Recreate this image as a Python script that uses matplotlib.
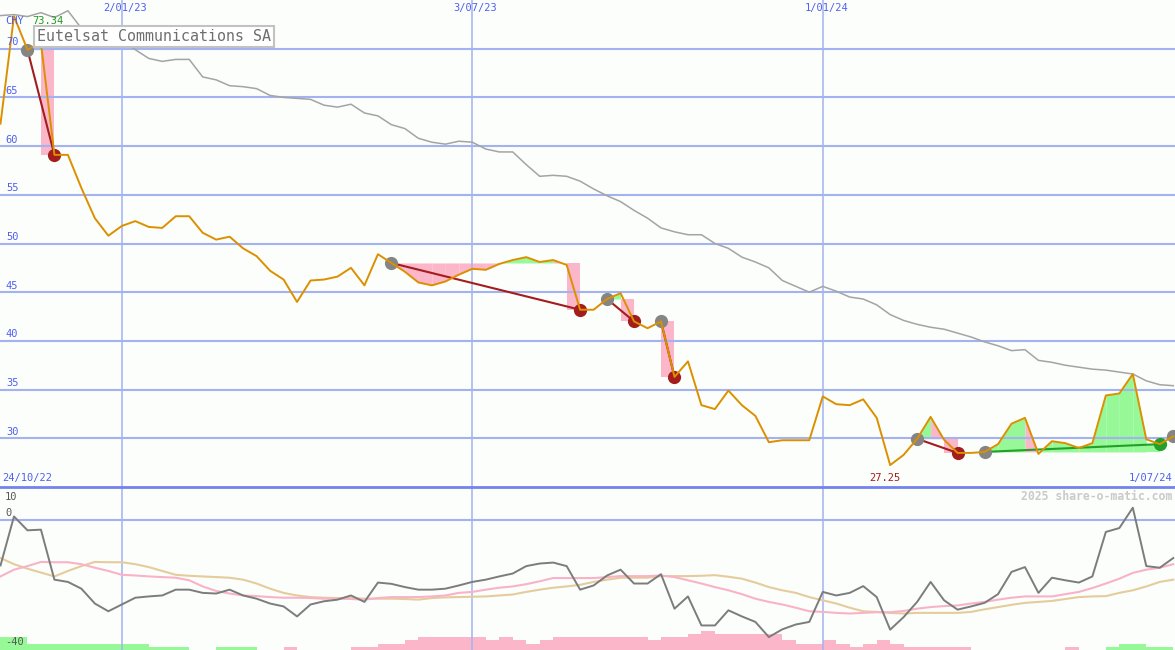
import matplotlib.pyplot as plt

# Weekly closes, 0 = first visible week, 87 = 1/07/24.
price = [62.3, 73.34, 69.9, 70.6, 59.1, 59.1, 55.7, 52.6, 50.8, 51.8,
         52.3, 51.7, 51.6, 52.8, 52.8, 51.1, 50.4, 50.7, 49.5, 48.7,
         47.2, 46.3, 44.0, 46.2, 46.3, 46.6, 47.5, 45.7, 48.9, 48.0,
         47.1, 46.0, 45.7, 46.1, 46.8, 47.4, 47.3, 47.9, 48.3, 48.6,
         48.1, 48.3, 47.8, 43.2, 43.2, 44.3, 44.9, 42.0, 41.3, 42.0,
         36.3, 37.9, 33.4, 33.0, 34.9, 33.4, 32.3, 29.6, 29.8, 29.8,
         29.8, 34.3, 33.5, 33.4, 34.0, 32.1, 27.25, 28.3, 29.95, 32.2,
         29.85, 28.5, 28.5, 28.6, 29.4, 31.5, 32.1, 28.4, 29.7, 29.5,
         29.0, 29.5, 34.4, 34.6, 36.6, 29.9, 29.4, 30.2]

# Long moving average (grey line in the price panel).
ma_long = [73.4, 73.5, 73.3, 73.7, 73.2, 73.9, 72.1, 71.7, 71.6, 70.8,
           69.9, 69.0, 68.7, 68.9, 68.9, 67.1, 66.8, 66.2, 66.1, 65.9,
           65.2, 65.0, 64.9, 64.8, 64.2, 64.0, 64.3, 63.4, 63.1, 62.2,
           61.8, 60.8, 60.4, 60.2, 60.5, 60.4, 59.7, 59.4, 59.4, 58.1,
           56.9, 57.0, 56.9, 56.4, 55.6, 54.9, 54.3, 53.4, 52.6, 51.6,
           51.2, 50.9, 50.9, 50.0, 49.5, 48.6, 48.1, 47.5, 46.2, 45.6,
           45.0, 45.6, 45.1, 44.5, 44.3, 43.7, 42.7, 42.1, 41.7, 41.4,
           41.2, 40.8, 40.4, 39.9, 39.5, 39.0, 39.1, 38.0, 37.8, 37.5,
           37.3, 37.1, 37.0, 36.8, 36.6, 35.9, 35.5, 35.4]

# Lower panel: oscillator and its two smoothings.
osc = [-14.1, 1.1, -3.2, -3.0, -18.5, -19.2, -21.3, -25.9, -28.3, -26.2,
       -24.1, -23.7, -23.4, -21.6, -21.6, -22.6, -22.8, -21.6, -23.4, -24.4,
       -25.9, -26.8, -29.9, -26.2, -25.2, -24.7, -23.4, -25.4, -19.4, -19.8,
       -20.8, -21.6, -21.6, -21.3, -20.3, -19.2, -18.5, -17.5, -16.6, -14.3,
       -13.5, -13.2, -14.3, -21.6, -20.3, -17.2, -15.4, -19.7, -19.7, -16.8,
       -27.5, -23.7, -32.7, -32.7, -28.0, -29.9, -31.6, -36.3, -33.9, -32.4,
       -31.6, -22.3, -23.4, -22.6, -20.5, -23.9, -34.0, -30.1, -25.4, -19.2,
       -24.9, -27.8, -26.8, -25.7, -23.0, -16.1, -14.6, -22.6, -17.9, -18.7,
       -19.4, -17.5, -3.7, -2.5, 3.8, -14.3, -14.8, -11.8]

osc_fast = [-17.5, -15.4, -14.3, -13.0, -13.1, -13.1, -13.7, -14.8, -15.8, -17.0,
            -17.2, -17.5, -17.7, -17.9, -18.7, -20.6, -22.0, -22.8, -23.4, -23.6,
            -23.9, -24.1, -24.1, -24.2, -24.4, -24.4, -24.5, -24.7, -24.2, -23.9,
            -23.9, -23.9, -23.7, -23.4, -22.6, -22.3, -21.6, -21.0, -20.6, -19.9,
            -19.0, -18.0, -18.0, -18.0, -18.0, -17.7, -17.4, -17.4, -17.4, -17.2,
            -17.7, -18.7, -19.7, -20.8, -21.8, -23.0, -24.4, -25.4, -26.2, -27.2,
            -28.3, -28.5, -28.8, -29.0, -28.8, -28.6, -28.6, -28.2, -27.5, -27.0,
            -26.7, -26.5, -25.9, -25.4, -24.7, -24.1, -23.7, -23.7, -23.7, -23.0,
            -22.3, -21.1, -19.7, -18.2, -16.4, -15.4, -14.8, -13.7]

osc_slow = [-11.8, -13.7, -15.1, -16.3, -17.5, -15.8, -14.3, -13.0, -13.1, -13.1,
            -13.7, -14.6, -15.8, -17.0, -17.3, -17.5, -17.7, -17.9, -18.5, -19.7,
            -21.3, -22.6, -23.4, -23.9, -24.1, -24.2, -24.2, -24.4, -24.4, -24.4,
            -24.5, -24.7, -24.2, -24.0, -23.9, -23.8, -23.7, -23.4, -23.1, -22.3,
            -21.6, -21.0, -20.6, -20.1, -19.2, -18.5, -17.9, -17.9, -17.9, -17.4,
            -17.4, -17.4, -17.3, -17.1, -17.6, -18.2, -19.4, -20.8, -21.8, -22.6,
            -23.9, -24.9, -25.9, -27.2, -28.3, -28.5, -28.8, -29.0, -28.8, -28.8,
            -28.8, -28.8, -28.5, -27.7, -27.0, -26.3, -25.7, -25.4, -25.1, -24.5,
            -23.9, -23.7, -23.6, -22.6, -21.8, -20.6, -19.2, -18.5]

# Histogram at the bottom: one value per week interval, + green, - pink.
bars = [4, 4, 2, 2, 2, 2, 2, 2, 2, 2, 2, 1, 1, 1, 0, 0, 1, 1, 1, 0,
        0, -1, 0, 0, 0, 0, -1, -1, -2, -2, -3, -4, -4, -4, -4, -4, -3, -4, -3, -2,
        -3, -4, -4, -4, -4, -4, -4, -4, -3, -4, -4, -5, -6, -5, -5, -5, -5, -5, -3, -2,
        -2, -3, -2, -1, -2, -3, -2, -1, -1, -1, -1, -1, 0, 0, 0, 0, 0, 0, 0, -1,
        0, 0, 1, 2, 2, 1, 1]

# Trades: entry week and exit week.
entries = [2, 29, 45, 49, 68, 73]
exits = [4, 43, 47, 50, 71, 86]
open_entry = 87

price_ticks = [30, 35, 40, 45, 50, 55, 60, 65, 70]
grid_weeks = [9, 35, 61]
grid_labels = ["2/01/23", "3/07/23", "1/01/24"]
start_label = "24/10/22"
end_label = "1/07/24"
title = "Eutelsat Communications SA"

# Colours used throughout.
bg = "#fcfefb"
grid_col = "#a3b2f1"
sep_col = "#7282ee"
tick_col = "#4f5ff0"
price_col = "#dc9000"
ma_col = "#a4a4a4"
gain_fill = "#97f897"
loss_fill = "#fbb6c9"
loss_col = "#a31d1d"
gain_col = "#22a02a"
entry_col = "#858585"

plt.rcParams["font.family"] = "DejaVu Sans Mono"

fig = plt.figure(figsize=(11.75, 6.5), dpi=100, facecolor=bg)
ax = fig.add_axes([0, 163 / 650, 1, 487 / 650])
low = fig.add_axes([0, 0, 1, 163 / 650])

x0, x1 = -0.037, 87.13
weeks = list(range(len(price)))

for a in (ax, low):
    a.set_facecolor(bg)
    a.set_xlim(x0, x1)
    a.set_axis_off()
    for w in grid_weeks:
        a.axvline(w, color=grid_col, lw=1.1, zorder=2)

ax.set_ylim(25, 75)
low.set_ylim(-40.31, 10.23)

# Price panel grid and labels.
for v in price_ticks:
    ax.axhline(v, color=grid_col, lw=1.5, zorder=2)
    ax.text(0.005, v + 0.15, str(v), transform=ax.get_yaxis_transform(),
            ha="left", va="bottom", fontsize=7.5, color=tick_col, zorder=6)

for w, lab in zip(grid_weeks, grid_labels):
    ax.text(w + 0.25, 74.15, lab, ha="center", va="center", fontsize=7.5, color=tick_col)


# Shade each trade between its entry level and the price.
def draw_trade_fill(entry, exit):
    level = price[entry]
    for k in range(entry, exit - 1):
        colour = loss_fill if price[k + 1] < level else gain_fill
        ax.fill_between([k, k + 1], level, [price[k], price[k + 1]],
                        color=colour, lw=0, zorder=1)
    colour = loss_fill if price[exit] < level else gain_fill
    ax.fill_between([exit - 1, exit], level, price[exit], color=colour, lw=0, zorder=1)


for e, x in zip(entries, exits):
    draw_trade_fill(e, x)

ax.plot(weeks, ma_long, color=ma_col, lw=1.1, zorder=3)

for e, x in zip(entries, exits):
    won = price[x] > price[e]
    ax.plot([e, x], [price[e], price[x]], color=gain_col if won else loss_col, lw=1.5, zorder=4)
    ax.plot(e, price[e], "o", ms=9.5, color=entry_col, mec="none", zorder=4)
    ax.plot(x, price[x], "o", ms=9.5, color=gain_col if won else loss_col, mec="none", zorder=4)

ax.plot([open_entry, open_entry + 0.5], [price[open_entry]] * 2, color=loss_col, lw=1.5, zorder=4)
ax.plot(open_entry, price[open_entry], "o", ms=9.5, color=entry_col, mec="none", zorder=4)

ax.plot(weeks, price, color=price_col, lw=1.4, zorder=5)

# Max / min and range annotations.
imax = price.index(max(price))
imin = price.index(min(price))
ax.text(0.0043, 72.85, "CHY", transform=ax.get_yaxis_transform(),
        ha="left", va="center", fontsize=7.5, color=tick_col, zorder=6)
ax.text(imax + 1.33, 72.85, f"{price[imax]:.2f}", ha="left", va="center",
        fontsize=7.5, color="#1f9a1f", zorder=6)
ax.text(imin - 0.4, 25.9, f"{price[imin]:.2f}", ha="center", va="center",
        fontsize=7.5, color=loss_col, zorder=6)
ax.text(0.002, 25.9, start_label, transform=ax.get_yaxis_transform(),
        ha="left", va="center", fontsize=7.5, color=tick_col)
ax.text(0.9975, 25.9, end_label, transform=ax.get_yaxis_transform(),
        ha="right", va="center", fontsize=7.5, color=tick_col)

ax.text(37 / 1175, 1 - 36.5 / 487, title, transform=ax.transAxes,
        ha="left", va="center", fontsize=10.8, color="#6e6e6e", zorder=7,
        bbox=dict(boxstyle="square,pad=0.22", fc="white", ec="#c2c2c2", lw=1.5))

# Lower panel.
low.axhline(10.23, color=sep_col, lw=2, zorder=6, clip_on=False)
low.axhline(0, color=grid_col, lw=1.5, zorder=2)

bar_weeks = list(range(len(bars)))
bar_cols = [gain_fill if b > 0 else loss_fill for b in bars]
low.bar(bar_weeks, [abs(b) for b in bars], width=1, align="edge", bottom=-40.31,
        color=bar_cols, lw=0, zorder=1)

low.plot(weeks, osc_slow, color="#e5cc9d", lw=1.5, zorder=3)
low.plot(weeks, osc_fast, color="#f9b3c8", lw=1.5, zorder=3)
low.plot(weeks, osc, color="#7c7c7c", lw=1.4, zorder=4)

for v, lab in [(7.1, "10"), (2.2, "0"), (-37.8, "-40")]:
    low.text(0.0043, v, lab, transform=low.get_yaxis_transform(),
             ha="left", va="center", fontsize=7.5, color="#555555", zorder=6)

low.text(0.9975, 7.4, "2025 share-o-matic.com", transform=low.get_yaxis_transform(),
         ha="right", va="center", fontsize=8.3, fontweight="bold", color="#cacaca")

fig.savefig("out.png", dpi=100, facecolor=bg)
